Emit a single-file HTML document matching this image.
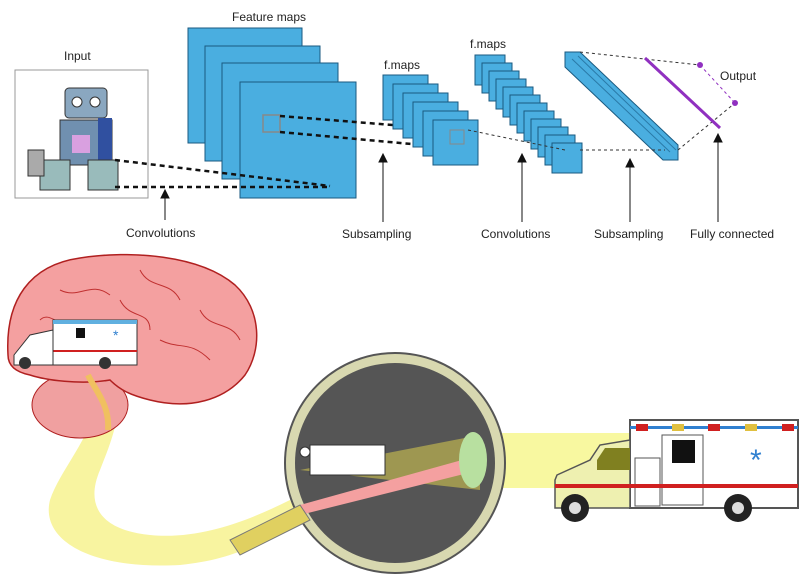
<!DOCTYPE html>
<html><head><meta charset="utf-8"><style>
body{margin:0;background:#fff}
svg{display:block}
text{font-family:"Liberation Sans",sans-serif;font-size:12px;fill:#222}
</style></head><body>
<svg width="800" height="577" viewBox="0 0 800 577">
<g>
<text x="64" y="60">Input</text>
<rect x="15" y="70" width="133" height="128" fill="#fff" stroke="#999"/>
<g>
<rect x="65" y="88" width="42" height="30" rx="4" fill="#8aa7c0" stroke="#333"/>
<circle cx="77" cy="102" r="5" fill="#fff" stroke="#333"/><circle cx="95" cy="102" r="5" fill="#fff" stroke="#333"/>
<rect x="60" y="120" width="52" height="45" fill="#7090b0" stroke="#333"/>
<rect x="72" y="135" width="18" height="18" fill="#d9a0e0"/>
<rect x="98" y="118" width="14" height="48" fill="#3050a0"/>
<rect x="40" y="160" width="30" height="30" fill="#9bb" stroke="#333"/>
<rect x="88" y="160" width="30" height="30" fill="#9bb" stroke="#333"/>
<rect x="28" y="150" width="16" height="26" fill="#aaa" stroke="#333"/>
</g>
<text x="232" y="21">Feature maps</text>
<g fill="#4aaee0" stroke="#1a5a80" stroke-width="1">
<rect x="188" y="28" width="114" height="115"/><rect x="205" y="46" width="115" height="115"/>
<rect x="222" y="63" width="116" height="116"/><rect x="240" y="82" width="116" height="116"/>
</g>
<rect x="263" y="115" width="17" height="17" fill="none" stroke="#888" stroke-width="1.5"/>
<g stroke="#111" stroke-width="2.5" stroke-dasharray="5,4" fill="none">
<line x1="115" y1="160" x2="330" y2="186"/><line x1="115" y1="187" x2="330" y2="187"/>
<line x1="280" y1="116" x2="455" y2="130"/><line x1="280" y1="132" x2="455" y2="148"/>
</g>
<text x="384" y="69">f.maps</text>
<g fill="#4aaee0" stroke="#1a5a80">
<rect x="383" y="75" width="45" height="45"/><rect x="393" y="84" width="45" height="45"/><rect x="403" y="93" width="45" height="45"/><rect x="413" y="102" width="45" height="45"/><rect x="423" y="111" width="45" height="45"/><rect x="433" y="120" width="45" height="45"/>
</g>
<rect x="450" y="130" width="14" height="14" fill="none" stroke="#888"/>
<text x="470" y="48">f.maps</text>
<g fill="#4aaee0" stroke="#1a5a80">
<rect x="475" y="55" width="30" height="30"/><rect x="482" y="63" width="30" height="30"/><rect x="489" y="71" width="30" height="30"/><rect x="496" y="79" width="30" height="30"/><rect x="503" y="87" width="30" height="30"/><rect x="510" y="95" width="30" height="30"/><rect x="517" y="103" width="30" height="30"/><rect x="524" y="111" width="30" height="30"/><rect x="531" y="119" width="30" height="30"/><rect x="538" y="127" width="30" height="30"/><rect x="545" y="135" width="30" height="30"/><rect x="552" y="143" width="30" height="30"/>
</g>
<g fill="#4aaee0" stroke="#1a5a80">
<polygon points="565,52 580,52 678,145 678,160 663,160 565,67"/>
<path d="M572,59 L670,152 M578,56 L676,150" stroke="#2a7aa8" fill="none"/>
</g>
<g stroke="#333" stroke-dasharray="3,3" fill="none">
<line x1="468" y1="130" x2="565" y2="150"/><line x1="580" y1="150" x2="665" y2="150"/>
<line x1="580" y1="52" x2="700" y2="65"/><line x1="678" y1="150" x2="735" y2="103"/>
<line x1="700" y1="65" x2="735" y2="103" stroke="#9030c0"/>
</g>
<line x1="645" y1="58" x2="720" y2="128" stroke="#9030c0" stroke-width="3"/>
<circle cx="700" cy="65" r="3" fill="#9030c0"/><circle cx="735" cy="103" r="3" fill="#9030c0"/>
<text x="720" y="80">Output</text>
<g stroke="#111" fill="#111">
<line x1="165" y1="220" x2="165" y2="196"/><polygon points="161,198 169,198 165,190"/>
<line x1="383" y1="222" x2="383" y2="160"/><polygon points="379,162 387,162 383,154"/>
<line x1="522" y1="222" x2="522" y2="160"/><polygon points="518,162 526,162 522,154"/>
<line x1="630" y1="222" x2="630" y2="165"/><polygon points="626,167 634,167 630,159"/>
<line x1="718" y1="222" x2="718" y2="140"/><polygon points="714,142 722,142 718,134"/>
</g>
<text x="126" y="237">Convolutions</text>
<text x="342" y="238">Subsampling</text>
<text x="481" y="238">Convolutions</text>
<text x="594" y="238">Subsampling</text>
<text x="690" y="238">Fully connected</text>
</g>
<g>
<path d="M100,395 C90,440 60,470 50,500 C40,540 90,570 180,565 C230,560 260,545 300,520 L290,500 C250,520 200,540 150,535 C100,530 85,505 100,470 C110,445 120,420 118,395 Z" fill="#f8f4a0"/>
<ellipse cx="80" cy="405" rx="48" ry="33" fill="#f0a0a0" stroke="#b02020"/>
<path d="M8,355 C5,300 30,265 80,258 C130,250 200,255 235,285 C262,310 262,350 245,375 C225,400 190,410 150,400 C130,395 120,390 110,380 C80,385 45,380 30,375 C15,372 8,365 8,355 Z" fill="#f4a0a0" stroke="#b02020" stroke-width="1.5"/>
<g stroke="#c03030" fill="none" stroke-width="1">
<path d="M60,290 C80,300 90,280 110,295 M140,270 C150,290 170,280 180,300 M200,310 C210,330 230,320 240,340 M160,340 C180,350 190,340 210,360 M40,320 C50,310 60,330 70,320 M120,300 C130,320 150,310 150,330"/>
</g>
<path d="M88,375 C95,390 110,405 108,430" stroke="#f0c060" stroke-width="6" fill="none"/>
<g>
<rect x="53" y="320" width="84" height="45" fill="#fff" stroke="#333"/>
<rect x="53" y="320" width="84" height="4" fill="#60b0e0"/>
<rect x="53" y="350" width="84" height="2" fill="#d02020"/>
<polygon points="14,355 30,335 53,330 53,365 14,365" fill="#fff" stroke="#333"/>
<rect x="76" y="328" width="9" height="10" fill="#111"/>
<text x="113" y="340" style="font-size:14px;fill:#3080d0">*</text>
<circle cx="25" cy="363" r="6" fill="#333"/><circle cx="105" cy="363" r="6" fill="#333"/>
</g>
<polygon points="480,433 630,433 630,488 480,488" fill="#f8f8a0"/>
<circle cx="395" cy="463" r="110" fill="#d8d8b0" stroke="#555" stroke-width="2"/>
<circle cx="395" cy="463" r="100" fill="#555"/>
<polygon points="300,470 480,435 480,490" fill="#b0a850" opacity="0.8"/>
<polygon points="300,505 480,455 480,470 300,515" fill="#f4a0a0"/>
<polygon points="230,540 300,505 310,520 240,555" fill="#e0d060" stroke="#777"/>
<ellipse cx="473" cy="460" rx="14" ry="28" fill="#b8e0a0"/>
<g>
<rect x="310" y="445" width="75" height="30" fill="#fff" stroke="#333"/>
<circle cx="305" cy="452" r="5" fill="#fff" stroke="#333"/>
</g>
<g>
<rect x="630" y="420" width="168" height="88" fill="#fff" stroke="#555" stroke-width="2"/>
<rect x="630" y="426" width="168" height="3" fill="#3080d0"/>
<rect x="636" y="424" width="12" height="7" fill="#d02020"/><rect x="672" y="424" width="12" height="7" fill="#e0c040"/><rect x="708" y="424" width="12" height="7" fill="#d02020"/><rect x="745" y="424" width="12" height="7" fill="#e0c040"/><rect x="782" y="424" width="12" height="7" fill="#d02020"/>
<polygon points="555,480 557,475 590,460 600,445 630,440 630,508 555,508" fill="#eef0b0" stroke="#555" stroke-width="1.5"/>
<polygon points="597,460 605,448 630,448 630,470 597,470" fill="#808020"/>
<rect x="635" y="458" width="25" height="48" fill="none" stroke="#555"/>
<rect x="662" y="435" width="41" height="70" fill="none" stroke="#555"/>
<rect x="672" y="440" width="23" height="23" fill="#111"/>
<rect x="555" y="484" width="243" height="4" fill="#d02020"/>
<text x="750" y="470" style="font-size:30px;fill:#3080d0">*</text>
<circle cx="575" cy="508" r="14" fill="#222"/><circle cx="575" cy="508" r="6" fill="#ddd"/>
<circle cx="738" cy="508" r="14" fill="#222"/><circle cx="738" cy="508" r="6" fill="#ddd"/>
</g>
</g>
</svg>
</body></html>
